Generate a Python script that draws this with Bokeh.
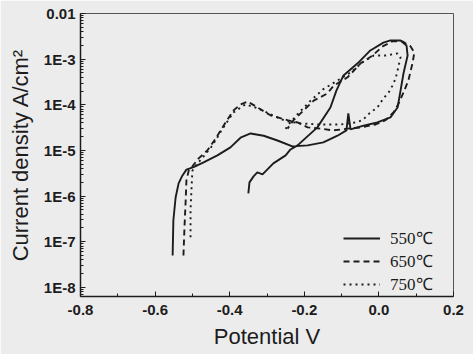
from bokeh.plotting import figure
from bokeh.models import Range1d, FixedTicker, CustomJSTickFormatter, Legend, LegendItem
from bokeh.embed import file_html
from bokeh.resources import INLINE

# ---- data ----
v550 = [-0.553, -0.551, -0.545, -0.537, -0.527, -0.516, -0.497, -0.470, -0.433, -0.398,
        -0.371, -0.344, -0.309, -0.272, -0.232, -0.191, -0.149, -0.111, -0.087, -0.082,
        -0.076, -0.041, -0.004, 0.031, 0.050, 0.058, 0.066, 0.077, 0.074, 0.058,
        0.031, 0.012, -0.023, -0.057, -0.095, -0.114, -0.130, -0.165, -0.218, -0.237,
        -0.250, -0.283, -0.312, -0.326, -0.336, -0.347, -0.350]
i550 = [5.0e-8, 2.95e-7, 9.3e-7, 1.9e-6, 2.8e-6, 3.8e-6, 4.3e-6, 5.5e-6, 7.8e-6, 1.17e-5,
        1.9e-5, 2.35e-5, 2.1e-5, 1.65e-5, 1.23e-5, 1.29e-5, 1.5e-5, 2.1e-5, 2.75e-5, 6.5e-5,
        2.9e-5, 3.5e-5, 4.1e-5, 5.3e-5, 8.7e-5, 2.05e-4, 4.9e-4, 1.2e-3, 2.0e-3, 2.57e-3,
        2.57e-3, 2.3e-3, 1.55e-3, 8.1e-4, 4.4e-4, 2.05e-4, 8.7e-5, 3.2e-5, 1.29e-5, 1.05e-5,
        7.8e-6, 5.2e-6, 3.0e-6, 3.3e-6, 2.7e-6, 2.0e-6, 1.15e-6]

v650 = [-0.524, -0.521, -0.518, -0.516, -0.510, -0.500, -0.484, -0.460, -0.438, -0.411,
        -0.390, -0.371, -0.352, -0.325, -0.291, -0.245, -0.218, -0.191, -0.157, -0.122,
        -0.084, -0.049, -0.009, 0.018, 0.039, 0.053, 0.066, 0.079, 0.090, 0.095,
        0.085, 0.063, 0.036, 0.010, -0.017, -0.049, -0.084, -0.122, -0.138, -0.175,
        -0.210, -0.229, -0.245]
i650 = [5.0e-8, 2.3e-7, 8.1e-7, 2.2e-6, 3.6e-6, 4.5e-6, 6.6e-6, 1.0e-5, 1.8e-5, 4.1e-5,
        7.5e-5, 1.02e-4, 1.18e-4, 8.7e-5, 5.9e-5, 4.6e-5, 4.1e-5, 3.2e-5, 3.0e-5, 2.75e-5,
        3.0e-5, 3.2e-5, 3.7e-5, 4.6e-5, 6.8e-5, 1.07e-4, 1.86e-4, 3.4e-4, 8.1e-4, 1.4e-3,
        1.9e-3, 2.45e-3, 2.45e-3, 1.9e-3, 1.2e-3, 8.1e-4, 4.0e-4, 2.6e-4, 1.77e-4, 1.23e-4,
        6.5e-5, 4.6e-5, 3.0e-5]

v750 = [-0.505, -0.505, -0.502, -0.500, -0.489, -0.470, -0.446, -0.422, -0.390, -0.358,
        -0.323, -0.285, -0.250, -0.210, -0.157, -0.103, -0.063, -0.044, -0.023, -0.004,
        0.012, 0.026, 0.036, 0.045, 0.050, 0.058, 0.050, 0.018, -0.014, -0.044,
        -0.076, -0.111, -0.149, -0.183, -0.216, -0.242, -0.253]
i750 = [1.25e-7, 4.9e-7, 1.7e-6, 3.6e-6, 4.9e-6, 7.4e-6, 1.29e-5, 2.75e-5, 6.8e-5, 1.02e-4,
        8.3e-5, 5.9e-5, 4.4e-5, 3.9e-5, 3.7e-5, 3.7e-5, 4.1e-5, 4.6e-5, 6.8e-5, 8.7e-5,
        1.38e-4, 1.86e-4, 2.6e-4, 3.8e-4, 5.6e-4, 1.1e-3, 1.33e-3, 1.2e-3, 1.2e-3, 8.5e-4,
        5.1e-4, 3.4e-4, 2.2e-4, 1.23e-4, 6.5e-5, 3.7e-5, 2.75e-5]

series_labels = ["550\u2103", "650\u2103", "750\u2103"]

x_ticks = [-0.8, -0.6, -0.4, -0.2, 0.0, 0.2]
x_tick_labels = ["-0.8", "-0.6", "-0.4", "-0.2", "0.0", "0.2"]
x_minor = [-0.7, -0.5, -0.3, -0.1, 0.1]
y_ticks = [1e-8, 1e-7, 1e-6, 1e-5, 1e-4, 1e-3, 1e-2]
y_tick_labels = ["1E-8", "1E-7", "1E-6", "1E-5", "1E-4", "1E-3", "0.01"]
y_minor = [k * 10.0 ** e for e in range(-9, -2) for k in range(2, 10)]

BG = "#ececec"
INK = "#1c1c1c"

p = figure(width=473, height=354, y_axis_type="log",
           x_range=Range1d(-0.8, 0.2), y_range=Range1d(10 ** -8.2, 0.01),
           output_backend="svg", toolbar_location=None,
           min_border_left=80, min_border_right=20, min_border_top=13, min_border_bottom=58)
p.background_fill_color = BG
p.border_fill_color = BG
p.outline_line_color = "#555555"
p.outline_line_width = 1
p.xgrid.visible = False
p.ygrid.visible = False

r1 = p.line(v550, i550, line_color=INK, line_width=1.9)
r2 = p.line(v650, i650, line_color=INK, line_width=1.9, line_dash="6 4")
r3 = p.line(v750, i750, line_color=INK, line_width=1.9, line_dash="2 4")

p.xaxis.ticker = FixedTicker(ticks=x_ticks, minor_ticks=x_minor)
p.xaxis.formatter = CustomJSTickFormatter(args=dict(t=x_ticks, l=x_tick_labels), code="""
  let b = 0, d = 1e9;
  for (let i = 0; i < t.length; i++) { const e = Math.abs(t[i] - tick); if (e < d) { d = e; b = i; } }
  return l[b];
""")
p.yaxis.ticker = FixedTicker(ticks=y_ticks, minor_ticks=y_minor)
p.yaxis.formatter = CustomJSTickFormatter(args=dict(t=y_ticks, l=y_tick_labels), code="""
  let b = 0, d = 1e9;
  for (let i = 0; i < t.length; i++) { const e = Math.abs(Math.log10(t[i]) - Math.log10(tick)); if (e < d) { d = e; b = i; } }
  return l[b];
""")

for ax in (p.xaxis[0], p.yaxis[0]):
    ax.axis_line_color = INK
    ax.axis_line_width = 1.5
    ax.major_tick_in = 5
    ax.major_tick_out = 0
    ax.minor_tick_in = 3
    ax.minor_tick_out = 0
    ax.major_tick_line_color = INK
    ax.minor_tick_line_color = INK
    ax.major_label_text_font = "Liberation Sans"
    ax.major_label_text_font_style = "bold"
    ax.major_label_text_font_size = "15px"
    ax.major_label_text_color = INK
    ax.axis_label_text_font = "Liberation Sans"
    ax.axis_label_text_font_style = "normal"
    ax.axis_label_text_font_size = "22px"
    ax.axis_label_text_color = INK

p.xaxis.axis_label = "Potential V"
p.xaxis.major_label_standoff = 8
p.xaxis.axis_label_standoff = 6
p.yaxis.axis_label = "Current density A/cm\u00b2"
p.yaxis.major_label_standoff = 5
p.yaxis.axis_label_standoff = 8

legend = Legend(items=[LegendItem(label=series_labels[0], renderers=[r1]),
                       LegendItem(label=series_labels[1], renderers=[r2]),
                       LegendItem(label=series_labels[2], renderers=[r3])],
                location=(263, 1), padding=0, margin=0, spacing=0,
                glyph_width=37, glyph_height=22, label_standoff=10,
                label_text_font="Liberation Serif", label_text_font_size="17px",
                label_text_color=INK, background_fill_alpha=0, border_line_alpha=0)
p.add_layout(legend, "center")

open("out.html", "w").write(file_html(p, INLINE))
